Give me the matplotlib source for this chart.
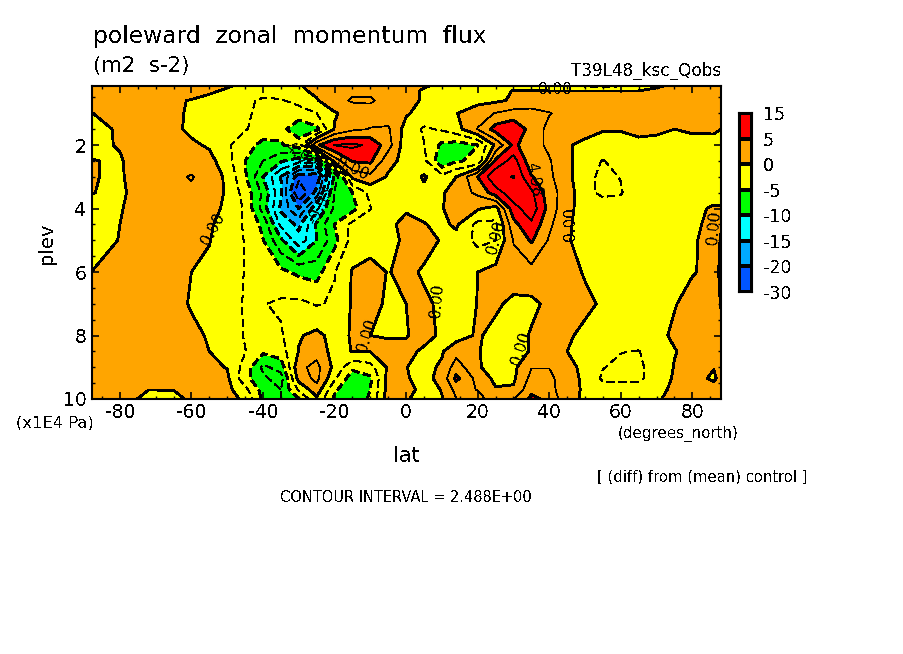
import numpy as np
import matplotlib
matplotlib.use("Agg")
import matplotlib.pyplot as plt

plt.rcParams['text.antialiased'] = False

lat = [-88, -80, -72, -65, -60, -55, -50, -45, -40, -35, -30, -25, -20, -15, -10, -5, 0, 5,
       10, 14, 20, 25, 30, 35, 40, 45, 50, 55, 60, 65, 70, 75, 80, 86, 88]
plev = [0.14, 0.3, 0.6, 1, 1.5, 2, 2.5, 3, 3.5, 4, 4.5, 5, 6, 7, 8, 8.5, 9, 9.35, 9.7, 10]

# one row per plev
flux = [
    [1.5, 2, 2, 2, 1.5, 1, .3, -.8, -1, -1, -.2, .8, 1.2, 1.6, 1.5, 1, .8, .2, -.5, -1, -1, -.5, -.3, -.8, -1.5, -2, -2.8, -3, -2.7, -1.5, -.3, .5, 1, 1, 1],
    [1.5, 2, 2, 2, 1.5, .5, -.5, -1.5, -2, -1.5, -.5, .5, 1.5, 2, 2, 1.2, .8, -.3, -1, -1.2, -1, -.4, .05, .05, .05, .05, .05, .05, .05, .05, .5, 1, 1, 1, 1],
    [.8, 1.5, 1.8, .5, -.2, -1, -1.7, -2.2, -2.7, -2.7, -1.8, -.2, 1.5, 2.8, 2.8, 1.5, .8, -.3, -1, -1, -.8, -.4, .3, .8, 1.2, 1.3, 1.4, 1.5, 1.5, 1.3, 1.2, 1, 1, 1, 1],
    [-.1, 1.5, 1.8, .4, -.3, -1.2, -1.8, -2.3, -2.8, -3, -3.5, -2.5, -.2, .8, 1.5, 1.2, .3, -1, -2, -.1, 1.5, 2.6, 3.5, 3.5, 2.6, 1.8, 1.5, 1.4, 1.3, 1, .8, .6, .4, .4, .3],
    [-.8, .3, 1.3, .5, -.5, -1.5, -2, -2.4, -3, -4, -7, -5.6, .2, 2, 2.6, 2.8, -1, -2.8, -2.2, -1, 2.6, 6, 7, 4, 1.8, 1.3, .8, .1, .1, .3, .3, 0, .4, .3, 0],
    [-.5, .15, 1.5, 1.5, .4, -.3, -2.2, -3.5, -6, -5.3, -3.5, 4.5, 7.6, 8, 7, 3.5, -1.5, -2.4, -5.5, -6, -5, .5, 5.5, 3.5, 2, .2, -.5, -.6, -.6, -.3, -.5, -.8, -1, -.7, -.2],
    [.08, -.2, 1.5, 1.8, 1.8, .8, -1.5, -5, -7.5, -9.6, -11.5, -10.5, 1, 5.2, 5.5, .8, -.8, -1.8, -7, -5.2, -4.5, 5.5, 8.6, 3.2, 2.7, .6, -1.5, -2.6, -1.5, -.4, -.6, -.8, -1, -.7, -.3],
    [.1, -.25, 1.4, 2.2, 2.6, 1.8, -.6, -4.6, -10, -15, -21.5, -22, -9.5, .6, 1.8, -.3, -1.5, .3, -1.8, 0, 5, 9.5, 10, 5.2, 3, .7, -1.8, -3, -2.4, -.5, -.7, -.8, -.8, -.8, -.5],
    [.05, -.3, 1, 2, 2.2, 1.6, -.4, -3.5, -8, -14.5, -25, -19, -7, -5, -1.8, -.6, -.6, -.6, -.3, 1.2, 3, 6.3, 9, 8, 3.5, 1.3, -1.8, -3, -2.7, -.6, -.7, -.8, -.8, -.7, -.5],
    [-.6, -.1, .8, 1.6, 2, 1, -.6, -2.8, -8.5, -15.5, -20, -13, -7, -5.8, -2.6, -.8, -.2, -.6, -.1, .8, .3, -1, 6.5, 9, 4, .5, -.8, -1.2, -1, -.8, -.7, -.5, -.4, .2, .1],
    [-1, 0, .8, 1.4, 1.6, .3, -1, -2.8, -5.6, -13, -15.6, -9.5, -4.9, -1.8, -1, -.4, .5, .1, -.5, .4, -3.2, -3, 4.2, 7, 3, .3, -.8, -1, -1, -.9, -.7, -.5, -.3, .4, .1],
    [-1.2, .1, .7, 1.2, 1.2, .1, -1.3, -2.6, -4.9, -9.5, -14, -10, -5.8, -1.5, -1, -.5, .3, .9, -.2, -.8, -3.2, -2.5, 2.6, 5.3, 2.2, .2, -.8, -1, -1, -.9, -.7, -.5, -.2, .6, -.1],
    [0, .5, 1, .6, 0, -.5, -1.2, -2.6, -3.6, -4.4, -5.5, -6, -2.6, .2, .8, -.1, .6, -.3, -.5, -1.2, 0, .8, 1.7, 1.6, 1.6, .8, -.2, -.6, -.8, -.8, -.6, -.3, -.1, .4, -.2],
    [.5, 1, 1.2, .7, -.2, -.8, -1.4, -2.7, -2.6, -2.1, -1.9, -2.7, -2.2, .3, .6, -.3, 0, .4, -.4, -1, .05, .5, -.7, -.5, .5, 1.2, .5, -.3, -.7, -.8, -.5, -.1, .6, .9, -.1],
    [1.2, 1.5, 1.6, 1.4, .5, -.2, -1, -2.7, -3.4, -2.8, -.2, .6, -.8, .2, 0, -.1, -.1, .6, -.3, -1, .3, -.8, -.9, .2, .8, .3, -.5, -1, -1, -.8, -.5, .3, .7, .8, .5],
    [1.3, 1.6, 1.7, 1.5, .8, 0, -.9, -2.4, -4.5, -3.6, .1, 1.6, -1, .1, .1, .4, .5, -.3, -.2, 1.5, .2, -1.2, -1, .2, 1.5, 0, -.6, -1.6, -2.4, -2.6, -.9, -.1, .6, 1, 1],
    [1.5, 1.7, 1.7, 1.6, 1.2, .5, -.1, -3.5, -8, -6.5, 1.9, 3.2, -.7, -4.4, -3.4, .4, .05, -.6, .3, 3.8, .4, -1.5, -.6, 2.4, 2.4, .6, -.5, -2.4, -3, -3, -1.3, .1, .8, .1, .7],
    [1.6, 1.5, 1.3, .9, 1.1, 1, .5, -4.2, -7, -8.5, 1, 3.2, -2, -6.5, -5.4, .9, .2, -.8, .8, 5.6, 1.6, -.6, -.4, 3.2, 3.2, .8, -.4, -2.9, -2.9, -2.9, -1.5, .3, .9, -.4, .8],
    [1.5, 1.3, .05, .05, .7, .9, .7, -1.8, -6, -7.5, -2, 1.5, -4.5, -7, -5, .9, .9, -.8, .1, 3.3, 2.4, .2, .3, 4.3, 3.4, .8, -.3, -1.5, -1.6, -1.5, -.6, .4, 1, 1, 1],
    [1.5, 1.2, -.8, -.6, .4, .8, .8, -.4, -5.5, -7.5, -5, -.5, -5.5, -7, -4.5, 1.5, .2, -.8, -.1, 2.4, 3.2, 1.5, 2.4, 5.6, 4.4, .6, -.3, -.9, -1, -.8, -.2, .5, 1, 1.2, 1.2],
]

levels = [-30, -20, -15, -10, -5, 0, 5, 15]
colors = ['#0055ff', '#00aaff', '#00ffff', '#00ff00', '#ffff00', '#ffa500', '#ff0000']
cb_labels = ['-30', '-20', '-15', '-10', '-5', '0', '5', '15']
interval = 2.488

# (text, lat, plev, rotation)
line_labels = [
    ('0.00', -54, 4.65, 62), ('0.00', -11, 8.0, 72), ('0.00', 8.5, 6.9, 85), ('0.00', 25, 4.9, 75),
    ('0.00', 46, 4.5, 90), ('0.00', 86, 4.6, 85), ('0.00', 32, 8.4, 72), ('0.00', 41.5, 0.26, 0),
    ('0.00', -15, 2.75, -25), ('4.98', -29.5, 2.35, -40), ('-9.95', -24, 3.9, 65), ('4.98', 35.5, 3.1, -80),
]

fig = plt.figure(figsize=(9.04, 6.54), dpi=100)
W, H = 904, 654
ax = fig.add_axes([92 / W, 1 - 399 / H, 629 / W, 313 / H])

ax.contourf(lat, plev, flux, levels=levels, colors=colors, antialiased=False, extend='both')
steps = np.arange(-9, 5)
thin = [i * interval for i in steps if i % 2]
thick = [i * interval for i in steps if i % 2 == 0]
for group, lw, dash in ((thin, 0.5, (0, (11, 7))), (thick, 1.3, (0, (4, 2.5)))):
    styles = [dash if l < -0.01 else 'solid' for l in group]
    ax.contour(lat, plev, flux, levels=group, colors='k', linewidths=lw,
               linestyles=styles, antialiased=False)

for s, x, y, r in line_labels:
    ax.text(x, y, s, rotation=r, ha='center', va='center', fontsize=11,
            rotation_mode='anchor')

ax.set_xlim(-87.8, 88)
ax.set_ylim(10, 0.14)
ax.set_xticks(np.arange(-80, 81, 20))
ax.set_xticks(np.arange(-85, 86, 5), minor=True)
ax.set_yticks(np.arange(2, 11, 2))
ax.set_yticks(np.arange(0.5, 10, 0.5), minor=True)
ax.set_xticklabels(['-80', '-60', '-40', '-20', '0', '20', '40', '60', '80'])
ax.tick_params(which='major', direction='in', length=5, width=1.2, top=True, right=True, labelsize=13.5, pad=3)
ax.tick_params(which='minor', direction='in', length=2.5, width=1, top=True, right=True)
ax.tick_params(axis='y', pad=4)
for sp in ax.spines.values():
    sp.set_linewidth(1.5)

# colour key
cax = fig.add_axes([739 / W, 1 - 292 / H, 13 / W, 179 / H])
cax.pcolormesh([0, 1], np.arange(8), np.arange(7).reshape(7, 1), cmap=matplotlib.colors.ListedColormap(colors),
               edgecolors='k', linewidth=1.5, antialiased=False)
cax.set_xticks([])
cax.yaxis.tick_right()
cax.set_yticks(np.arange(8))
cax.set_yticklabels(cb_labels, fontsize=12.5)
cax.tick_params(axis='y', length=0, pad=8)
for sp in cax.spines.values():
    sp.set_linewidth(1.5)


def put(px, py, s, **kw):
    fig.text(px / W, 1 - py / H, s, va='center', **kw)


put(93, 37, 'poleward  zonal  momentum  flux', fontsize=16.8)
put(93, 66, '(m2  s-2)', fontsize=15.3)
put(721, 71, 'T39L48_ksc_Qobs', fontsize=12.2, ha='right')
put(47, 243, 'plev', fontsize=14, rotation=90, ha='center')
put(406, 456, 'lat', fontsize=15, ha='center')
put(55, 423, '(x1E4 Pa)', fontsize=11.8, ha='center')
put(678, 434, '(degrees_north)', fontsize=10.9, ha='center')
put(702, 477, '[ (diff) from (mean) control ]', fontsize=10.6, ha='center')
put(406, 497, 'CONTOUR INTERVAL = 2.488E+00', fontsize=10.5, ha='center')

fig.savefig('out.png', dpi=100)
